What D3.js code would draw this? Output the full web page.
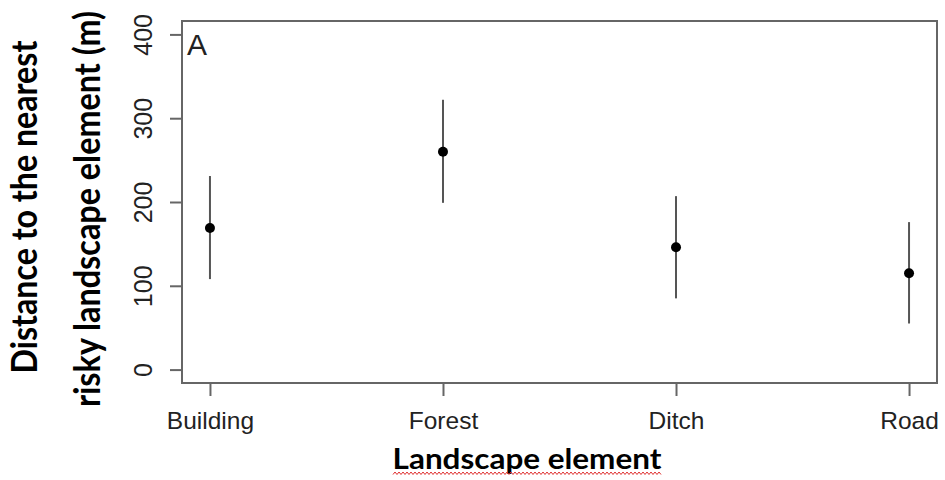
<!DOCTYPE html>
<html>
<head>
<meta charset="utf-8">
<script src="https://cdn.jsdelivr.net/npm/d3@7"></script>
<style>
  body { margin: 0; background: #fff; }
</style>
</head>
<body>
<div id="content"></div>
<script>
// values
var categories = ['Building', 'Forest', 'Ditch', 'Road'];
var means = [169, 260, 146, 115];
var lower = [108, 199, 85, 55];
var upper = [231, 322, 207, 176];
var yTicks = [0, 100, 200, 300, 400];

var width = 945, height = 480;
var box = { left: 182, right: 937, top: 21, bottom: 383 };

var svg = d3.select('#content').append('svg')
    .attr('width', width)
    .attr('height', height);

var xScale = d3.scaleLinear()
    .domain([0.88, 4.12])
    .range([box.left, box.right]);

var yScale = d3.scaleLinear()
    .domain([-16, 416])
    .range([box.bottom, box.top]);

// plot frame
svg.append('rect')
    .attr('x', box.left)
    .attr('y', box.top)
    .attr('width', box.right - box.left)
    .attr('height', box.bottom - box.top)
    .style('fill', 'none')
    .style('stroke', '#666')
    .style('stroke-width', 2);

// y axis
var yAxis = d3.axisLeft(yScale)
    .tickValues(yTicks)
    .tickSize(12)
    .tickPadding(0)
    .tickFormat(d3.format('d'));

var yGuide = svg.append('g')
    .attr('transform', 'translate(' + box.left + ',0)')
    .call(yAxis);
yGuide.select('.domain').remove();
yGuide.selectAll('line')
    .style('stroke', '#666')
    .style('stroke-width', 2);
yGuide.selectAll('text')
    .attr('x', 0).attr('y', 0)
    .attr('dy', 0)
    .attr('transform', 'translate(-30,0) rotate(-90)')
    .style('text-anchor', 'middle')
    .style('font-family', '"Liberation Sans", Arial, sans-serif')
    .style('font-size', '25px')
    .style('fill', '#222');

// x axis
var xAxis = d3.axisBottom(xScale)
    .tickValues(d3.range(1, categories.length + 1))
    .tickSize(13)
    .tickPadding(20)
    .tickFormat(function(d){ return categories[d - 1]; });

var xGuide = svg.append('g')
    .attr('transform', 'translate(0,' + box.bottom + ')')
    .call(xAxis);
xGuide.select('.domain').remove();
xGuide.selectAll('line')
    .style('stroke', '#666')
    .style('stroke-width', 2);
xGuide.selectAll('text')
    .attr('dy', 0)
    .attr('y', 46)
    .style('font-family', '"Liberation Sans", Arial, sans-serif')
    .style('font-size', '24.5px')
    .style('fill', '#222');

// error bars
var idx = d3.range(categories.length);

svg.append('g').selectAll('line')
    .data(idx)
    .enter().append('line')
        .attr('x1', function(i){ return xScale(i + 1); })
        .attr('x2', function(i){ return xScale(i + 1); })
        .attr('y1', function(i){ return yScale(lower[i]); })
        .attr('y2', function(i){ return yScale(upper[i]); })
        .style('stroke', '#555')
        .style('stroke-width', 2);

svg.append('g').selectAll('circle')
    .data(idx)
    .enter().append('circle')
        .attr('cx', function(i){ return xScale(i + 1); })
        .attr('cy', function(i){ return yScale(means[i]); })
        .attr('r', 5)
        .style('fill', '#000');

// panel letter
svg.append('text')
    .attr('x', 187)
    .attr('y', 55)
    .style('font-family', '"Liberation Sans", Arial, sans-serif')
    .style('font-size', '30px')
    .style('fill', '#222')
    .text('A');

// axis titles: the source image is squeezed, so fit length and glyph height separately
var titleFont = 'Lato, "Open Sans", sans-serif';

function title(x, y, rot, label, len, size){
    var g = svg.append('g')
        .attr('transform', 'translate(' + x + ',' + y + ') rotate(' + rot + ')');
    var t = g.append('text')
        .style('text-anchor', 'middle')
        .style('font-family', titleFont)
        .style('font-weight', 'bold')
        .style('font-size', size + 'px')
        .style('fill', '#000')
        .text(label);
    var fit = size * len / t.node().getComputedTextLength();
    t.style('font-size', fit + 'px')
        .attr('transform', 'scale(1,' + (size / fit) + ')');
    return g;
}

title(37, 207, -90, 'Distance to the nearest', 333, 37);
title(100, 209, -90, 'risky landscape element (m)', 396, 36);
title(527, 469, 0, 'Landscape element', 269, 28);

// spell-check squiggle under the x title
var squiggle = d3.range(393, 663, 2).map(function(x, i){
    return [x, i % 2 ? 472 : 474.5];
});
svg.append('path')
    .attr('d', d3.line()(squiggle))
    .style('fill', 'none')
    .style('stroke', '#e03030')
    .style('stroke-width', 1);
</script>
</body>
</html>
